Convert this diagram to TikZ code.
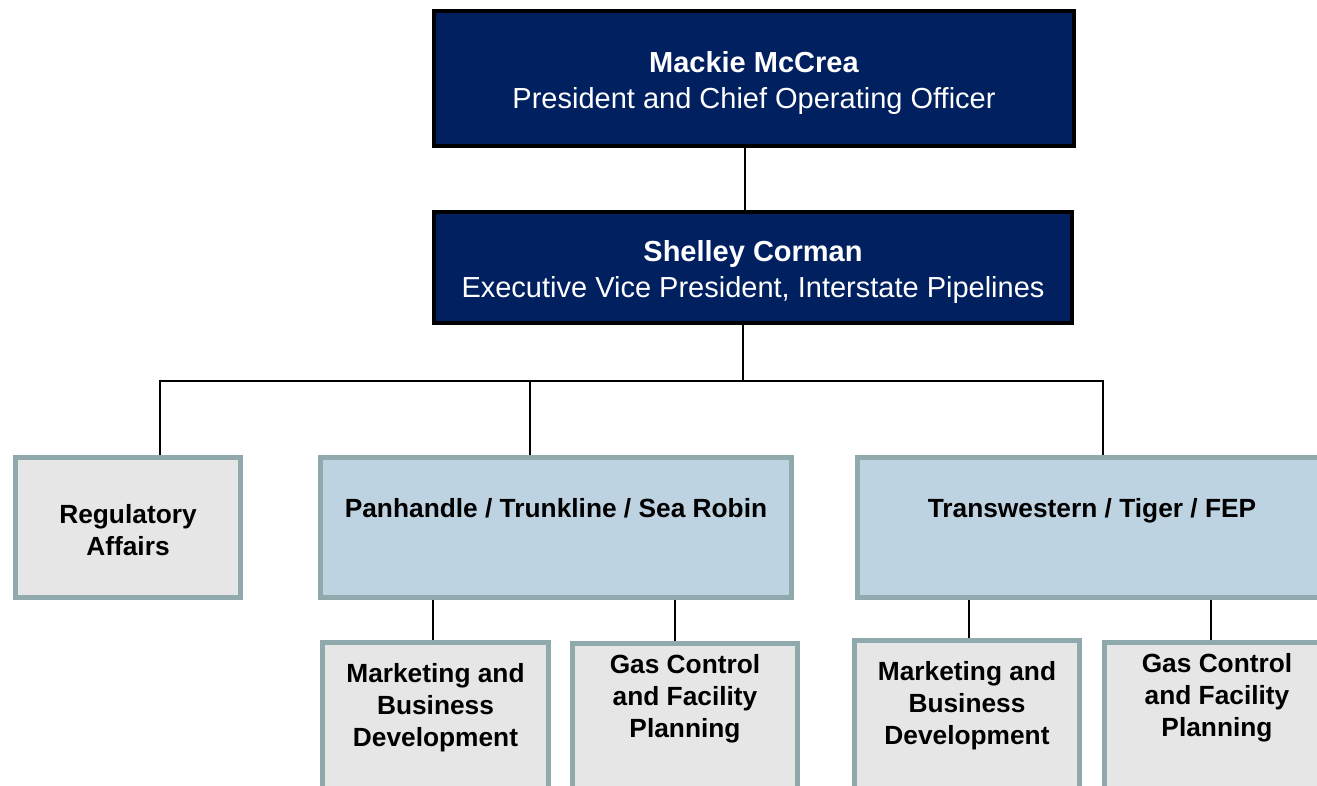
\documentclass[tikz,border=0pt]{standalone}
\usepackage{fontspec}
\setmainfont{Liberation Sans}
\usetikzlibrary{positioning}
\definecolor{navy}{HTML}{002060}
\definecolor{steel}{HTML}{8FA9AC}
\definecolor{paleblue}{HTML}{BDD3E1}
\definecolor{lightgrey}{HTML}{E6E6E6}

\begin{document}
\begin{tikzpicture}[x=1pt, y=1pt, line width=2pt,
  exec/.style={draw=black, line width=4pt, fill=navy, text=white, align=center, font=\fontsize{29}{36}\selectfont},
  unit/.style={draw=steel, line width=5pt, fill=paleblue, align=center, minimum width=469pt, minimum height=140pt, font=\bfseries\fontsize{26.3}{32}\selectfont},
  dept/.style={unit, fill=lightgrey, minimum width=225pt},
  sub/.style={dept, minimum height=165pt, anchor=north}]
  \useasboundingbox (0,0) rectangle (1317,-786);

  \node[exec, minimum width=640pt, minimum height=135pt] (ceo) at (754,-78.5) {\mbox{}\\[-5pt]\textbf{Mackie McCrea}\\President and Chief Operating Officer};
  \node[exec, minimum width=638pt, minimum height=111pt] (evp) [below=62pt of ceo, xshift=-1pt] {\mbox{}\\[-5pt]\textbf{Shelley Corman}\\Executive Vice President, Interstate Pipelines};

  \node[dept] (reg) at (128,-527.5) {\mbox{}\\[-8pt]Regulatory\\Affairs};
  \node[unit, minimum width=471pt] (pts) [right=75pt of reg] {\mbox{}\\[-8pt]Panhandle / Trunkline / Sea Robin\\[12pt]\mbox{}};
  \node[unit] (twt) [right=61pt of pts] {\mbox{}\\[-8pt]Transwestern / Tiger / FEP\\[12pt]\mbox{}};

  \node[sub, minimum width=226pt] (mbd1) at (435.5,-640) {\mbox{}\\[-8pt]Marketing and\\Business\\Development\\[13pt]\mbox{}};
  \node[sub] (gcf1) at (685,-641) {\mbox{}\\[-8pt]Gas Control\\and Facility\\Planning\\[33pt]\mbox{}};
  \node[sub] (mbd2) at (967,-638) {\mbox{}\\[-8pt]Marketing and\\Business\\Development\\[13pt]\mbox{}};
  \node[sub] (gcf2) at (1217,-640) {\mbox{}\\[-8pt]Gas Control\\and Facility\\Planning\\[33pt]\mbox{}};

  \coordinate (bus) at (743,-381);
  \draw ([xshift=-9pt]ceo.south) -- ([xshift=-9pt]ceo.south |- evp.north);
  \draw (evp.south -| bus) -- (bus);
  \draw ([xshift=32pt]reg.north) |- (bus) -| ([xshift=11pt]twt.north);
  \draw ([xshift=-26pt]pts.north) -- ([xshift=-26pt]pts.north |- bus);
  \draw ([xshift=-3pt]mbd1.north) -- ([xshift=-3pt]mbd1.north |- pts.south);
  \draw ([xshift=-10pt]gcf1.north) -- ([xshift=-10pt]gcf1.north |- pts.south);
  \draw ([xshift=2pt]mbd2.north) -- ([xshift=2pt]mbd2.north |- twt.south);
  \draw ([xshift=-6pt]gcf2.north) -- ([xshift=-6pt]gcf2.north |- twt.south);
\end{tikzpicture}
\end{document}
